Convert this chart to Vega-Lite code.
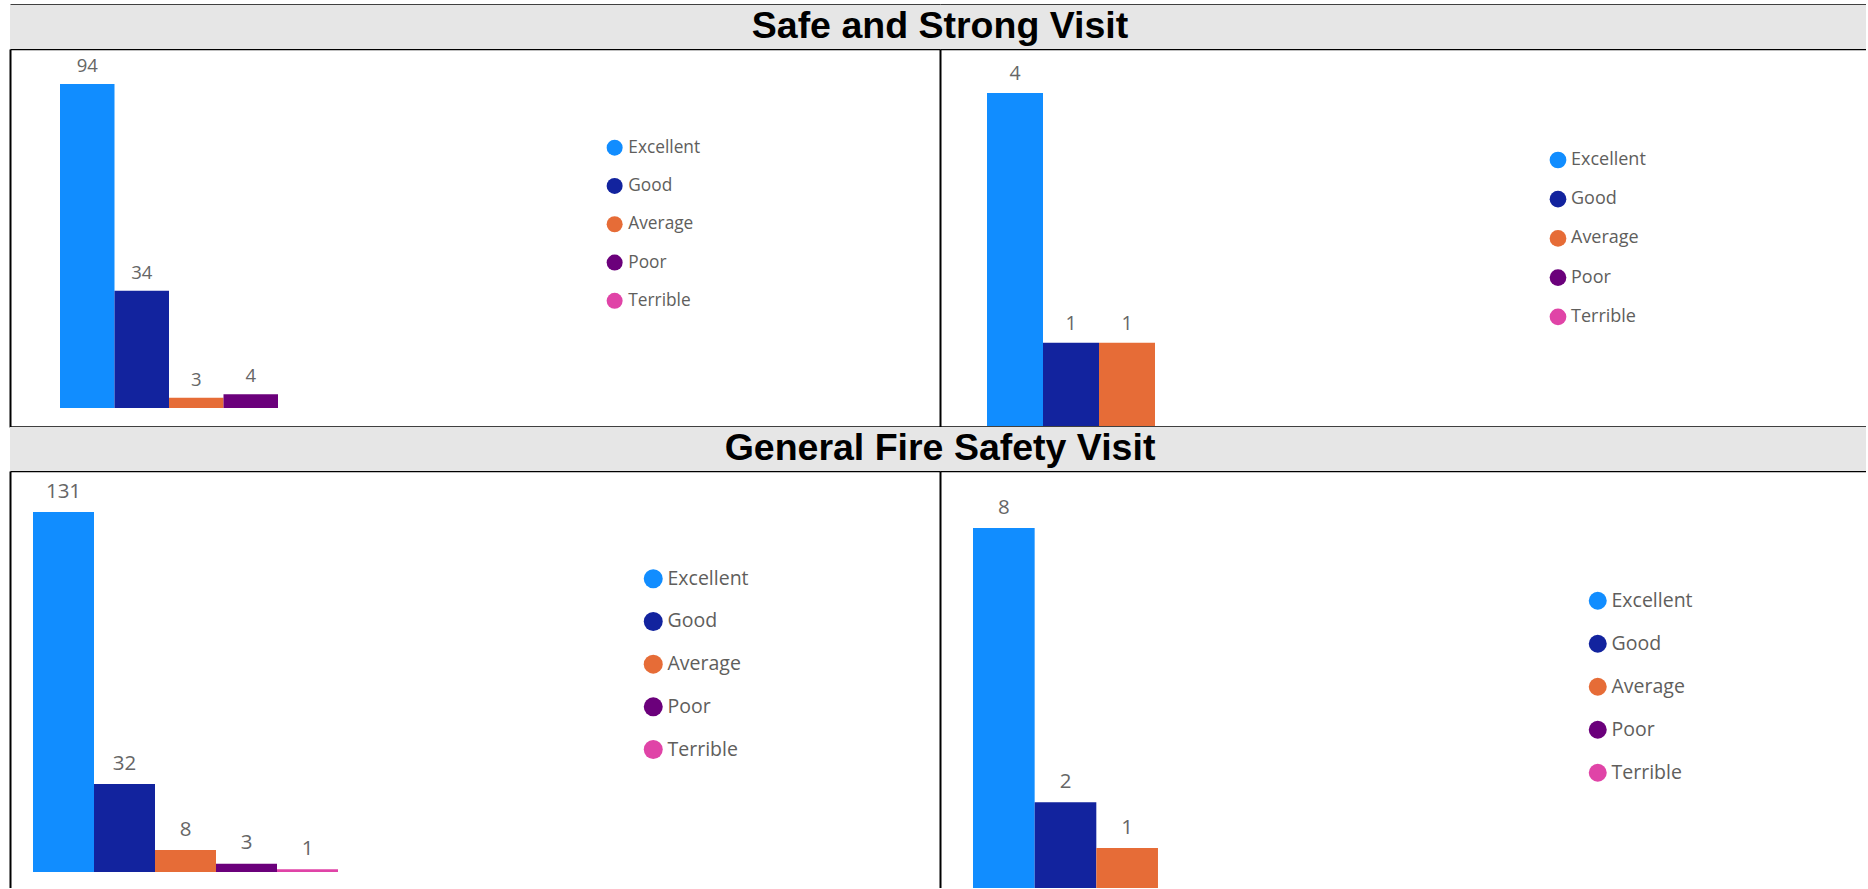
{
  "$schema": "https://vega.github.io/schema/vega-lite/v6.json",
  "padding": {"left": 10, "top": 5, "right": 0, "bottom": 0},
  "background": "#ffffff",
  "datasets": {
    "ratings": [
      {"visit": "Safe and Strong Visit", "panel": "left", "rating": "Excellent", "count": 94},
      {"visit": "Safe and Strong Visit", "panel": "left", "rating": "Good", "count": 34},
      {"visit": "Safe and Strong Visit", "panel": "left", "rating": "Average", "count": 3},
      {"visit": "Safe and Strong Visit", "panel": "left", "rating": "Poor", "count": 4},
      {"visit": "Safe and Strong Visit", "panel": "right", "rating": "Excellent", "count": 4},
      {"visit": "Safe and Strong Visit", "panel": "right", "rating": "Good", "count": 1},
      {"visit": "Safe and Strong Visit", "panel": "right", "rating": "Average", "count": 1},
      {"visit": "General Fire Safety Visit", "panel": "left", "rating": "Excellent", "count": 131},
      {"visit": "General Fire Safety Visit", "panel": "left", "rating": "Good", "count": 32},
      {"visit": "General Fire Safety Visit", "panel": "left", "rating": "Average", "count": 8},
      {"visit": "General Fire Safety Visit", "panel": "left", "rating": "Poor", "count": 3},
      {"visit": "General Fire Safety Visit", "panel": "left", "rating": "Terrible", "count": 1},
      {"visit": "General Fire Safety Visit", "panel": "right", "rating": "Excellent", "count": 8},
      {"visit": "General Fire Safety Visit", "panel": "right", "rating": "Good", "count": 2},
      {"visit": "General Fire Safety Visit", "panel": "right", "rating": "Average", "count": 1}
    ],
    "headerSafe": [{"title": "Safe and Strong Visit"}],
    "headerFire": [{"title": "General Fire Safety Visit"}]
  },
  "columns": 2,
  "spacing": 0,
  "bounds": "flush",
  "align": "each",
  "resolve": {"scale": {"color": "independent"}, "legend": {"color": "independent"}},
  "concat": [
    {
      "width": 930,
      "height": 44,
      "data": {"name": "headerSafe"},
      "layer": [
        {
          "mark": {"type": "bar", "color": "#e6e6e6"},
          "encoding": {
            "x": {"field": "title", "type": "nominal", "scale": {"paddingInner": 0, "paddingOuter": 0}, "axis": {"orient": "top", "domainWidth": 2.5, "title": null}},
            "y": {"field": "title", "type": "nominal", "scale": {"paddingInner": 0, "paddingOuter": 0}, "axis": {"orient": "left", "domainWidth": 2, "title": null}}
          }
        },
        {
          "mark": {"type": "bar", "color": "#e6e6e6"},
          "encoding": {
            "x": {"field": "title", "type": "nominal", "axis": {"orient": "bottom", "domainWidth": 1.5, "title": null}},
            "y": {"field": "title", "type": "nominal", "axis": null}
          }
        }
      ]
    },
    {
      "width": 926,
      "height": 44,
      "data": {"name": "headerSafe"},
      "layer": [
        {
          "mark": {"type": "bar", "color": "#e6e6e6"},
          "encoding": {
            "x": {"field": "title", "type": "nominal", "scale": {"paddingInner": 0, "paddingOuter": 0}, "axis": {"orient": "top", "domainWidth": 2.5, "title": null}},
            "y": {"field": "title", "type": "nominal", "scale": {"paddingInner": 0, "paddingOuter": 0}, "axis": null}
          }
        },
        {
          "mark": {"type": "text", "font": "Liberation Sans", "fontWeight": "bold", "fontSize": 37.5, "color": "#000000", "align": "center", "baseline": "middle"},
          "encoding": {
            "x": {"field": "title", "type": "nominal", "bandPosition": 0, "axis": {"orient": "bottom", "domainWidth": 1.5, "title": null}},
            "y": {"field": "title", "type": "nominal", "bandPosition": 0.5, "axis": null},
            "text": {"field": "title"}
          }
        }
      ]
    },
    {
      "width": 930,
      "height": 378,
      "data": {"name": "ratings"},
      "transform": [{"filter": "datum.visit === 'Safe and Strong Visit' && datum.panel === 'left'"}],
      "encoding": {
        "x": {"field": "rating", "type": "nominal", "sort": null,
              "scale": {"domain": ["Excellent", "Good", "Average", "Poor", "Terrible"], "range": [50, 322.5], "paddingInner": 0, "paddingOuter": 0},
              "axis": null},
        "y": {"field": "count", "type": "quantitative",
              "scale": {"domain": [-5.51, 104.15], "nice": false, "zero": false},
              "axis": {"orient": "left", "domainWidth": 2, "title": null}}
      },
      "layer": [
        {
          "mark": {"type": "bar"},
          "encoding": {
            "y2": {"datum": 0},
            "color": {"field": "rating", "type": "nominal",
                      "scale": {"domain": ["Excellent", "Good", "Average", "Poor", "Terrible"], "range": ["#118DFF", "#12239E", "#E66C37", "#6B007B", "#E044A7"]},
                      "legend": {"orient": "none", "direction": "vertical", "legendX": 596, "legendY": 90, "symbolSize": 256, "labelFontSize": 17.3, "rowPadding": 20.3, "labelOffset": 5, "title": null}}
          }
        },
        {
          "mark": {"type": "text", "baseline": "alphabetic", "dy": -12, "fontSize": 18.5, "font": "Open Sans", "color": "#666666"},
          "encoding": {"text": {"field": "count", "type": "quantitative"}}
        }
      ]
    },
    {
      "width": 926,
      "height": 378,
      "data": {"name": "ratings"},
      "transform": [{"filter": "datum.visit === 'Safe and Strong Visit' && datum.panel === 'right'"}],
      "encoding": {
        "x": {"field": "rating", "type": "nominal", "sort": null,
              "scale": {"domain": ["Excellent", "Good", "Average", "Poor", "Terrible"], "range": [47, 327], "paddingInner": 0, "paddingOuter": 0},
              "axis": null},
        "y": {"field": "count", "type": "quantitative",
              "scale": {"domain": [-0.012, 4.529], "nice": false, "zero": false},
              "axis": {"orient": "left", "domainWidth": 2, "title": null}}
      },
      "layer": [
        {
          "mark": {"type": "bar"},
          "encoding": {
            "y2": {"datum": 0},
            "color": {"field": "rating", "type": "nominal",
                      "scale": {"domain": ["Excellent", "Good", "Average", "Poor", "Terrible"], "range": ["#118DFF", "#12239E", "#E66C37", "#6B007B", "#E044A7"]},
                      "legend": {"orient": "none", "direction": "vertical", "legendX": 609, "legendY": 102, "symbolSize": 279, "labelFontSize": 18, "rowPadding": 21.2, "labelOffset": 4, "title": null}}
          }
        },
        {
          "mark": {"type": "text", "baseline": "alphabetic", "dy": -13, "fontSize": 19.5, "font": "Open Sans", "color": "#666666"},
          "encoding": {"text": {"field": "count", "type": "quantitative"}}
        }
      ]
    },
    {
      "width": 930,
      "height": 44,
      "data": {"name": "headerFire"},
      "layer": [
        {
          "mark": {"type": "bar", "color": "#e6e6e6"},
          "encoding": {
            "x": {"field": "title", "type": "nominal", "scale": {"paddingInner": 0, "paddingOuter": 0}, "axis": {"orient": "top", "domainWidth": 2.5, "title": null}},
            "y": {"field": "title", "type": "nominal", "scale": {"paddingInner": 0, "paddingOuter": 0}, "axis": {"orient": "left", "domainWidth": 2, "title": null}}
          }
        },
        {
          "mark": {"type": "bar", "color": "#e6e6e6"},
          "encoding": {
            "x": {"field": "title", "type": "nominal", "axis": {"orient": "bottom", "domainWidth": 1.5, "title": null}},
            "y": {"field": "title", "type": "nominal", "axis": null}
          }
        }
      ]
    },
    {
      "width": 926,
      "height": 44,
      "data": {"name": "headerFire"},
      "layer": [
        {
          "mark": {"type": "bar", "color": "#e6e6e6"},
          "encoding": {
            "x": {"field": "title", "type": "nominal", "scale": {"paddingInner": 0, "paddingOuter": 0}, "axis": {"orient": "top", "domainWidth": 2.5, "title": null}},
            "y": {"field": "title", "type": "nominal", "scale": {"paddingInner": 0, "paddingOuter": 0}, "axis": null}
          }
        },
        {
          "mark": {"type": "text", "font": "Liberation Sans", "fontWeight": "bold", "fontSize": 37.5, "color": "#000000", "align": "center", "baseline": "middle"},
          "encoding": {
            "x": {"field": "title", "type": "nominal", "bandPosition": 0, "axis": {"orient": "bottom", "domainWidth": 1.5, "title": null}},
            "y": {"field": "title", "type": "nominal", "bandPosition": 0.5, "axis": null},
            "text": {"field": "title"}
          }
        }
      ]
    },
    {
      "width": 930,
      "height": 417,
      "data": {"name": "ratings"},
      "transform": [{"filter": "datum.visit === 'General Fire Safety Visit' && datum.panel === 'left'"}],
      "encoding": {
        "x": {"field": "rating", "type": "nominal", "sort": null,
              "scale": {"domain": ["Excellent", "Good", "Average", "Poor", "Terrible"], "range": [23, 328], "paddingInner": 0, "paddingOuter": 0},
              "axis": null},
        "y": {"field": "count", "type": "quantitative",
              "scale": {"domain": [-5.82, 145.92], "nice": false, "zero": false},
              "axis": {"orient": "left", "domainWidth": 2, "title": null}}
      },
      "layer": [
        {
          "mark": {"type": "bar"},
          "encoding": {
            "y2": {"datum": 0},
            "color": {"field": "rating", "type": "nominal",
                      "scale": {"domain": ["Excellent", "Good", "Average", "Poor", "Terrible"], "range": ["#118DFF", "#12239E", "#E66C37", "#6B007B", "#E044A7"]},
                      "legend": {"orient": "none", "direction": "vertical", "legendX": 633.5, "legendY": 98, "symbolSize": 361, "labelFontSize": 19.5, "rowPadding": 21.7, "labelOffset": 4.5, "title": null}}
          }
        },
        {
          "mark": {"type": "text", "baseline": "alphabetic", "dy": -14.5, "fontSize": 20.5, "font": "Open Sans", "color": "#666666"},
          "encoding": {"text": {"field": "count", "type": "quantitative"}}
        }
      ]
    },
    {
      "width": 926,
      "height": 417,
      "data": {"name": "ratings"},
      "transform": [{"filter": "datum.visit === 'General Fire Safety Visit' && datum.panel === 'right'"}],
      "encoding": {
        "x": {"field": "rating", "type": "nominal", "sort": null,
              "scale": {"domain": ["Excellent", "Good", "Average", "Poor", "Terrible"], "range": [33, 341.3], "paddingInner": 0, "paddingOuter": 0},
              "axis": null},
        "y": {"field": "count", "type": "quantitative",
              "scale": {"domain": [0.122, 9.247], "nice": false, "zero": false},
              "axis": {"orient": "left", "domainWidth": 2, "title": null}}
      },
      "layer": [
        {
          "mark": {"type": "bar", "clip": true},
          "encoding": {
            "y2": {"datum": 0},
            "color": {"field": "rating", "type": "nominal",
                      "scale": {"domain": ["Excellent", "Good", "Average", "Poor", "Terrible"], "range": ["#118DFF", "#12239E", "#E66C37", "#6B007B", "#E044A7"]},
                      "legend": {"orient": "none", "direction": "vertical", "legendX": 648, "legendY": 120, "symbolSize": 324, "labelFontSize": 19.5, "rowPadding": 22, "labelOffset": 4, "title": null}}
          }
        },
        {
          "mark": {"type": "text", "baseline": "alphabetic", "dy": -14, "fontSize": 20.5, "font": "Open Sans", "color": "#666666"},
          "encoding": {"text": {"field": "count", "type": "quantitative"}}
        }
      ]
    }
  ],
  "config": {
    "view": {"stroke": null},
    "axis": {"domainColor": "#000000", "ticks": false, "labels": false, "grid": false},
    "legend": {"symbolType": "circle", "symbolStrokeWidth": 0, "symbolOpacity": 1, "labelFont": "Open Sans", "labelColor": "#605E5C", "padding": 0}
  }
}
